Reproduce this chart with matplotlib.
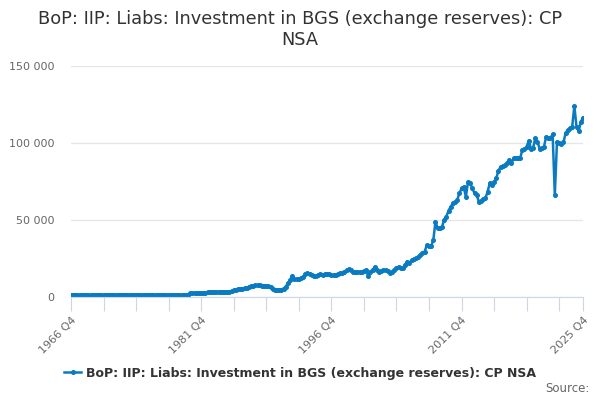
import numpy as np
import matplotlib.pyplot as plt
from matplotlib.ticker import FuncFormatter

# quarterly values, 1966 Q4 to 2025 Q4 (GBP million)
first = [1500]
y1967 = [1400, 1400, 1300, 1300]
y1968 = [1200, 1200, 1200, 1200]
y1969 = [1200, 1200, 1300, 1300]
y1970 = [1300, 1400, 1400, 1400]
y1971 = [1500, 1500, 1500, 1500]
y1972 = [1500, 1500, 1600, 1600]
y1973 = [1600, 1600, 1500, 1500]
y1974 = [1500, 1500, 1500, 1400]
y1975 = [1400, 1400, 1400, 1400]
y1976 = [1400, 1400, 1300, 1300]
y1977 = [1300, 1400, 1400, 1400]
y1978 = [1300, 1300, 1300, 1300]
y1979 = [1400, 1400, 1300, 1300]
y1980 = [1300, 1500, 2400, 2600]
y1981 = [2600, 2700, 2700, 2800]
y1982 = [2800, 2900, 3000, 3000]
y1983 = [3100, 3200, 3300, 3400]
y1984 = [3400, 3500, 3500, 3400]
y1985 = [3500, 3800, 4300, 4800]
y1986 = [5200, 5400, 5500, 5600]
y1987 = [5800, 6400, 7000, 7400]
y1988 = [7500, 7600, 7500, 7400]
y1989 = [7400, 7200, 6900, 6300]
y1990 = [5500, 4600, 4400, 4500]
y1991 = [4800, 5500, 6700, 8900]
y1992 = [11000, 13800, 11500, 11600]
y1993 = [12000, 12200, 12800, 14800]
y1994 = [15400, 15000, 14500, 13500]
y1995 = [13500, 14200, 14700, 14500]
y1996 = [14700, 14900, 14900, 14400]
y1997 = [14100, 14600, 15000, 15400]
y1998 = [15400, 16500, 17500, 18100]
y1999 = [17500, 16500, 16000, 16200]
y2000 = [16200, 16400, 16700, 17500]
y2001 = [13600, 16400, 17800, 19200]
y2002 = [17500, 16400, 17000, 17500]
y2003 = [17500, 17000, 15700, 16500]
y2004 = [17500, 18800, 19600, 19000]
y2005 = [18600, 21000, 22900, 22000]
y2006 = [24000, 24500, 25100, 26000]
y2007 = [27300, 28500, 29400, 33700]
y2008 = [33100, 33000, 37000, 48900]
y2009 = [44600, 44600, 45600, 50000]
y2010 = [52100, 56000, 58600, 60800]
y2011 = [61800, 63000, 67300, 70500]
y2012 = [71500, 65100, 74800, 73800]
y2013 = [70500, 67300, 66200, 61800]
y2014 = [62500, 63500, 64000, 68300]
y2015 = [73800, 72700, 74800, 77000]
y2016 = [82000, 84600, 85000, 85700]
y2017 = [87000, 88900, 86800, 90000]
y2018 = [90000, 90000, 90000, 95400]
y2019 = [96000, 97500, 101500, 96400]
y2020 = [97000, 103000, 100800, 96400]
y2021 = [97000, 97500, 104000, 103400]
y2022 = [103400, 105600, 66200, 100800]
y2023 = [100000, 99100, 100400, 106600]
y2024 = [108400, 109500, 110500, 124000]
y2025 = [110500, 107700, 113800, 116400]

years = [y1967, y1968, y1969, y1970, y1971, y1972, y1973, y1974, y1975,
         y1976, y1977, y1978, y1979, y1980, y1981, y1982, y1983, y1984,
         y1985, y1986, y1987, y1988, y1989, y1990, y1991, y1992, y1993,
         y1994, y1995, y1996, y1997, y1998, y1999, y2000, y2001, y2002,
         y2003, y2004, y2005, y2006, y2007, y2008, y2009, y2010, y2011,
         y2012, y2013, y2014, y2015, y2016, y2017, y2018, y2019, y2020,
         y2021, y2022, y2023, y2024, y2025]
values = first + [v for yr in years for v in yr]

quarters = ["1966 Q4"] + [f"{y} Q{q}" for y in range(1967, 2026) for q in range(1, 5)]
label_quarters = ["1966 Q4", "1981 Q4", "1996 Q4", "2011 Q4", "2025 Q4"]
series_name = "BoP: IIP: Liabs: Investment in BGS (exchange reserves): CP NSA"
title = "BoP: IIP: Liabs: Investment in BGS (exchange reserves): CP\nNSA"

blue = "#0a7bc1"
x = np.arange(len(values))

fig = plt.figure(figsize=(6, 4), dpi=100)
ax = fig.add_axes([0.1183, 0.2575, 0.8534, 0.5775])

ax.plot(x, values, color=blue, lw=1.8, marker="o", ms=2.6, label=series_name)

ax.set_xlim(0, len(values) - 1)
ax.set_ylim(0, 150000)
ax.set_yticks([0, 50000, 100000, 150000])
ax.yaxis.set_major_formatter(FuncFormatter(lambda v, p: f"{int(v):,}".replace(",", " ")))
ax.grid(axis="y", color="#e6e6e6", lw=1)
ax.set_axisbelow(True)

tick_pos = list(range(0, len(values), 15)) + [len(values) - 1]
ax.set_xticks(tick_pos)
ax.set_xticklabels([quarters[i] if quarters[i] in label_quarters else "" for i in tick_pos],
                   rotation=45, ha="right", rotation_mode="anchor")
ax.tick_params(axis="x", length=10, color="#ccd6eb", labelsize=8, labelcolor="#666666", pad=3)
ax.tick_params(axis="y", length=0, labelsize=8, labelcolor="#666666", pad=12)

for s in ["top", "right", "left"]:
    ax.spines[s].set_visible(False)
ax.spines["bottom"].set_color("#ccd6eb")

fig.suptitle(title, y=0.975, fontsize=12.8, color="#333333")
fig.legend(loc="center", bbox_to_anchor=(0.5, 0.067), frameon=False,
           prop={"size": 9, "weight": "bold"}, labelcolor="#333333",
           handlelength=1.4, handletextpad=0.4)
fig.text(0.982, 0.028, "Source:", ha="right", va="center", fontsize=8.5, color="#666666")

fig.savefig("out.png", dpi=100)
